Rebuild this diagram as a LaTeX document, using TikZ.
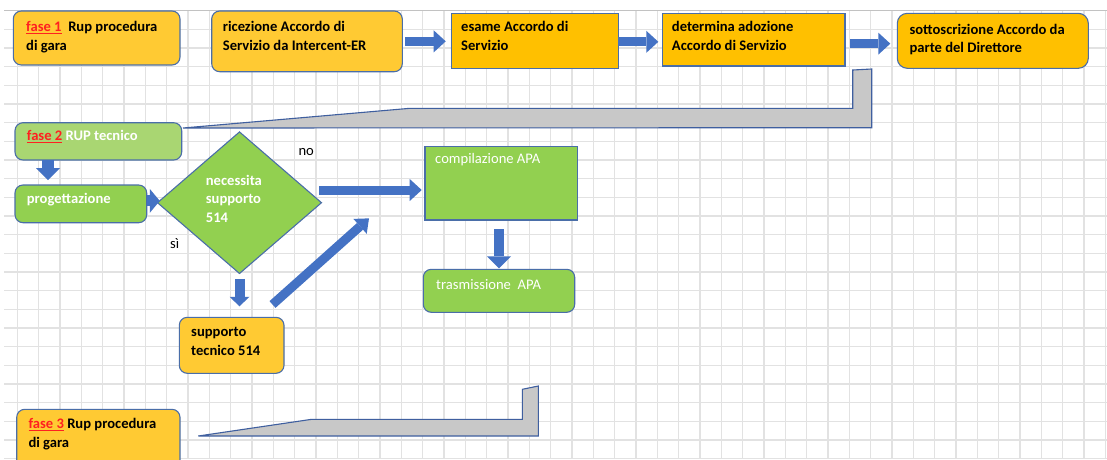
\documentclass[tikz,border=0pt]{standalone}
\usepackage{fontspec}
\setmainfont{Carlito}
\usetikzlibrary{shapes.geometric,arrows.meta,calc}

\definecolor{gridgray}{HTML}{E2E2E2}
\definecolor{topline}{HTML}{C2C2C2}
\definecolor{goldlight}{HTML}{FFCA33}
\definecolor{gold}{HTML}{FFC000}
\definecolor{leaf}{HTML}{92D050}
\definecolor{leaflight}{HTML}{A9D672}
\definecolor{edge}{HTML}{4A6EA8}
\definecolor{flow}{HTML}{4472C4}
\definecolor{bar}{HTML}{C8C8C8}
\definecolor{barline}{HTML}{3F5F9F}
\definecolor{phase}{HTML}{FF2020}

\newcommand{\firstline}{\rule{0pt}{13pt}}
\newcommand{\phasetag}[1]{{\color{phase}\underline{#1}}}

\tikzset{
  gridline/.style={draw=gridgray, line width=1.2pt},
  box/.style={draw=edge, line width=1.1pt, inner sep=0pt, outer sep=0pt, anchor=north west},
  roundbox/.style={box, rounded corners=8pt},
  lbl/.style={anchor=north west, inner sep=0pt, align=left,
    font=\bfseries\fontsize{14.6}{18.5}\selectfont},
  plain/.style={anchor=base west, inner sep=0pt,
    font=\fontsize{14.6}{18.5}\selectfont},
  barshape/.style={fill=bar, draw=barline, line width=1.1pt, line join=miter},
  blk/.style={draw=flow, line width=9pt,
    -{Triangle[width=22pt,length=12pt,line width=0pt]}},
}

\begin{document}
\begin{tikzpicture}[x=1pt,y=-1pt]
\useasboundingbox (0,0) rectangle (1107,459);
\clip (0,0) rectangle (1107,459);
\fill[white] (0,0) rectangle (1107,459);

% worksheet grid
\foreach \i in {0,...,51}
  \draw[gridline] ({17.4+21.333*\i},10.7) -- ({17.4+21.333*\i},459);
\foreach \j in {1,...,24}
  \draw[gridline] (4,{10.7+18.667*\j}) -- (1107,{10.7+18.667*\j});
\draw[draw=topline, line width=1.3pt] (4,10.7) -- (1107,10.7);

% grey bent bars
\draw[barshape] (183,128) -- (410,108.3) -- (852.7,108.3) -- (852.7,70)
  -- (871.7,69) -- (871.7,127.7) -- cycle;
\draw[barshape] (198.3,436) -- (311.7,419.3) -- (522.3,419.3) -- (522.3,389.3)
  -- (538.3,386) -- (538.3,436) -- cycle;

% phase 1 row
\node[roundbox, fill=goldlight, minimum width=166.7pt, minimum height=54pt] (f1) at (13.3,11) {};
\node[roundbox, fill=goldlight, minimum width=190.6pt, minimum height=60.7pt] (ric) at (211.7,11) {};
\node[box, fill=gold, minimum width=166.6pt, minimum height=55pt] (esa) at (451.7,13.3) {};
\node[box, fill=gold, minimum width=182.7pt, minimum height=52.7pt] (det) at (662.3,13.3) {};
\node[roundbox, rounded corners=10pt, fill=gold, minimum width=191pt, minimum height=55pt] (sot) at (897.3,13.3) {};

\node[lbl] (f1t) at (26,18.7) {\firstline\phasetag{fase 1}\ \ Rup procedura\\di gara};
\node[lbl] (rict) at (222.7,18.3) {\firstline ricezione Accordo di\\Servizio da Intercent-ER};
\node[lbl] (esat) at (461,18.7) {\firstline esame Accordo di\\Servizio};
\node[lbl] (dett) at (671.7,18.7) {\firstline determina adozione\\Accordo di Servizio};
\node[lbl] (sott) at (909.3,21) {\firstline sottoscrizione Accordo da\\parte del Direttore};

% phase 2
\node[roundbox, fill=leaflight, minimum width=166.7pt, minimum height=37.3pt] (f2) at (15,122.7) {};
\node[roundbox, fill=leaf, minimum width=131.7pt, minimum height=37.7pt] (prog) at (15,185) {};
\node[diamond, draw=edge, line width=1.1pt, fill=leaf, inner sep=0pt,
  minimum width=164.4pt, minimum height=142pt] (dec) at (239.5,202.7) {};
\node[box, fill=leaf, minimum width=152.3pt, minimum height=73.3pt] (comp) at (425,146.7) {};
\node[roundbox, fill=leaf, minimum width=151.4pt, minimum height=43pt] (tras) at (423.3,269.3) {};
\node[roundbox, fill=goldlight, minimum width=104.7pt, minimum height=56pt] (sup) at (179.3,317.3) {};

\node[lbl] (f2t) at (26.7,127) {\firstline\phasetag{fase 2} \textcolor{white}{RUP tecnico}};
\node[lbl, text=white] (progt) at (26.7,190.3) {\firstline progettazione};
\node[lbl, text=white] (dect) at (205.7,172) {\firstline necessita\\supporto\\514};
\node[plain] (no) at (298.3,155) {no};
\node[plain] (si) at (170,248.3) {sì};
\node[plain, text=white] (compt) at (435,163.3) {compilazione APA};
\node[plain, text=white] (trast) at (436,289) {trasmissione\ \ APA};
\node[lbl] (supt) at (191,323.7) {\firstline supporto\\tecnico 514};

% phase 3
\node[roundbox, fill=goldlight, minimum width=163.3pt, minimum height=62pt] (f3) at (16.7,409.3) {};
\node[lbl] (f3t) at (28.3,415.3) {\firstline\phasetag{fase 3} Rup procedura\\di gara};

% block arrows
\draw[blk] ([xshift=3pt]ric.east) -- ([xshift=-6pt]ric.east -| esa.west);
\draw[blk] ([yshift=-1pt]esa.east) -- ([xshift=-4pt,yshift=-1pt]esa.east -| det.west);
\draw[blk] ([xshift=5pt,yshift=-4pt]det.east) -- ([xshift=-7pt,yshift=-4pt]det.east -| sot.west);
\draw[blk, line width=12pt, -{Triangle[width=24pt,length=12pt,line width=0pt]}]
  ([xshift=33pt]f2.south west) -- ([xshift=33pt,yshift=5pt]f2.south west |- prog.north);
\draw[blk, line width=11pt, -{Triangle[width=24pt,length=10pt,line width=0pt]}]
  ([yshift=3pt]prog.east) -- ([xshift=3pt,yshift=3pt]prog.east -| dec.west);
\draw[blk] ([xshift=-3pt,yshift=12.7pt]dec.east) -- ([xshift=-3.3pt,yshift=12.7pt]dec.east -| comp.west);
\draw[blk, line width=10pt, -{Triangle[width=24pt,length=12pt,line width=0pt]}]
  ([yshift=-9pt]comp.south -| tras.north) -- ([yshift=1pt]tras.north);
\draw[blk, line width=10pt, -{Triangle[width=20pt,length=9.5pt,line width=0pt]}]
  ([yshift=-4.5pt]dec.south) -- ([yshift=-32pt]dec.south);
\draw[blk, -{Triangle[width=20pt,length=12pt,line width=0pt]}]
  ([xshift=-11.5pt,yshift=12.8pt]sup.north east) -- ([xshift=-56pt,yshift=-35pt]comp.west);
\end{tikzpicture}
\end{document}
